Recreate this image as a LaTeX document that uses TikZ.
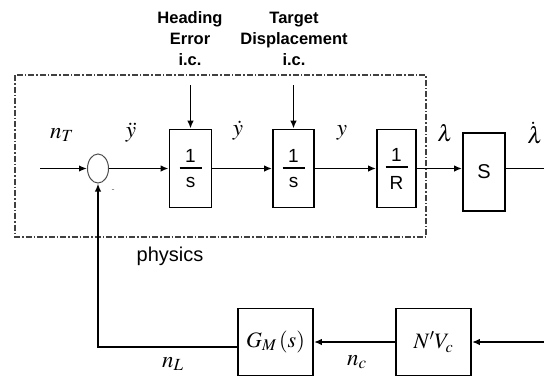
\documentclass[tikz,border=0pt]{standalone}
\usepackage{mathptmx}
\usepackage{fontspec}
\setmainfont{Liberation Sans}
\setsansfont{Liberation Sans}
\usetikzlibrary{arrows.meta, shapes.geometric}

\newcommand{\blkfrac}[2]{\vbox{\hbox to 22pt{\hss#1\hss}\kern5pt\hrule height 2pt\kern8pt\hbox to 22pt{\hss#2\hss}}}

\begin{document}
\begin{tikzpicture}[
  x=1pt, y=-1pt,
  blk/.style={draw, line width=1.8pt, minimum width=42pt, minimum height=78pt, inner sep=0pt, font=\fontsize{19}{22}\selectfont},
  lowblk/.style={draw, line width=1.8pt, minimum width=75pt, minimum height=67pt, inner sep=0pt, font=\fontsize{22}{24}\selectfont},
  sumpt/.style={draw=black!70, ellipse, minimum width=21pt, minimum height=29pt, line width=1pt, inner sep=0pt},
  lbl/.style={font=\fontsize{23}{25}\selectfont, inner sep=0pt},
  ictxt/.style={align=center, font=\bfseries\fontsize{16.5}{21}\selectfont, inner sep=0pt},
  line/.style={line width=1.8pt},
  >={Latex[length=8pt,width=6.5pt]}
]
\useasboundingbox (0,0) rectangle (544,376);

\draw[black!75, line width=1.2pt, dash pattern=on 6pt off 2pt on 1.5pt off 2pt] (15,75) rectangle (426,237);

\node[sumpt] (sum) at (98,168.5) {};
\node[blk] (int1) at (190.5,168.5) {\blkfrac{1}{s}};
\node[blk, minimum width=41pt] (int2) at (293.5,168.5) {\blkfrac{1}{s}};
\node[blk, minimum width=39pt] (invR) at (396.5,168.5) {\blkfrac{1}{R}};
\node[blk, font=\fontsize{20}{22}\selectfont] (sblk) at (484,172) {S};
\node[lowblk] (gm) at (275.5,342) {$G_M\,(s)$};
\node[lowblk] (nvc) at (433.5,342) {$N'V_c$};

\coordinate (in) at (40,168.5);
\coordinate (out) at (544,168.5);
\coordinate (rin) at (544,342);
\coordinate (hd) at (190.5,85);
\coordinate (tg) at (293.5,85);

\node[ictxt] (heading) at (190,39) {Heading\\Error\\i.c.};
\node[ictxt] (target) at (294,39) {Target\\Displacement\\i.c.};

\node[lbl] (nT) at (62,135) {$n_T$};
\node[lbl] (yddot) at (131,133) {$\ddot{y}$};
\node[lbl] (ydot) at (238,131) {$\dot{y}$};
\node[lbl] (ypos) at (342,133) {$y$};
\node[lbl] (lam) at (445,133) {$\lambda$};
\node[lbl] (lamdot) at (535,133) {$\dot{\lambda}$};
\node[font=\fontsize{9}{9}\selectfont, text=black!60] (minus) at (113,191) {-};
\node[font=\fontsize{20}{22}\selectfont, inner sep=0pt] (phys) at (170,256) {physics};
\node[lbl] (nL) at (173,364) {$n_L$};
\node[lbl] (nc) at (357,362) {$n_c$};

\draw[line,->] (in) -- (sum.west);
\draw[line,->] (sum.east) -- (int1.west);
\draw[line,->] (int1.east) -- (int2.west);
\draw[line,->] (int2.east) -- (invR.west);
\draw[line,->] (invR.east) -- (invR.east -| sblk.west);
\draw[line] (sblk.east |- out) -- (out);
\draw[line,->] (hd) -- (int1.north);
\draw[line,->] (tg) -- (int2.north);
\draw[line,->] (rin) -- (nvc.east);
\draw[line,->] (nvc.west) -- (gm.east);
\draw[line,->] ([yshift=-5pt]gm.west) -| (sum.south);
\end{tikzpicture}
\end{document}
